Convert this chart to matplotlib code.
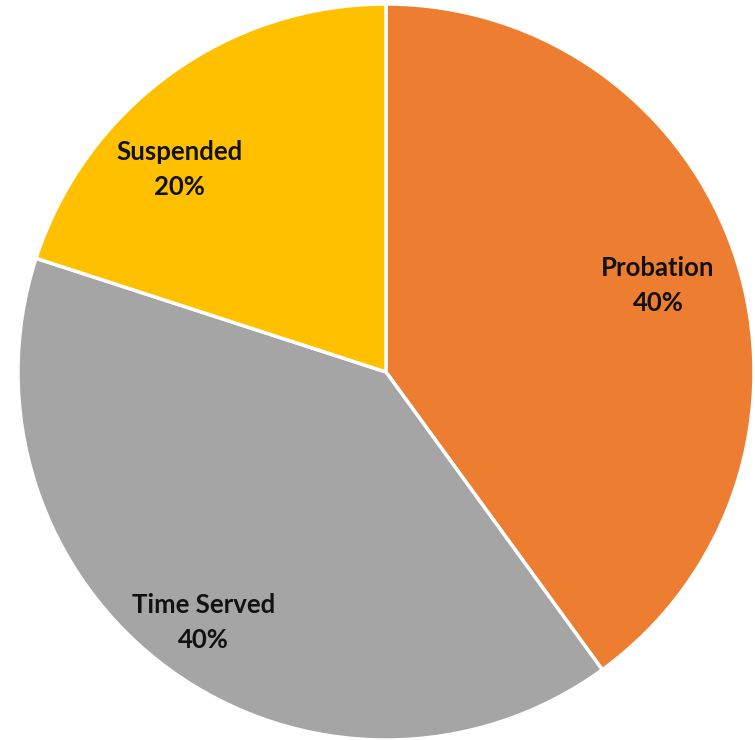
import matplotlib
matplotlib.use("Agg")
import matplotlib.pyplot as plt

categories = ["Probation", "Time Served", "Suspended"]
values = [40, 40, 20]
colors = ["#ED7D31", "#A5A5A5", "#FFC000"]

# label placement (x, y) in axes data units
label_pos = [(0.739, 0.236), (-0.495, -0.682), (-0.560, 0.550)]

fig = plt.figure(figsize=(7.55, 7.40), dpi=100)
ax = fig.add_axes([0, 0, 1, 1])
ax.pie(values, colors=colors, startangle=90, counterclock=False,
       center=(0, 0), radius=1.0,
       wedgeprops=dict(edgecolor="white", linewidth=2.5))
ax.set_xlim(-386/368, (755-386)/368)
ax.set_ylim(-368/368, 372/368)
ax.set_aspect("auto")
ax.axis("off")

total = sum(values)
for cat, v, (x, y) in zip(categories, values, label_pos):
    ax.text(x, y, f"{cat}\n{v/total*100:.0f}%", ha="center", va="center",
            fontsize=18.5, fontweight="bold", family=["Lato", "DejaVu Sans"],
            color="#111111", linespacing=1.55)

fig.savefig("out.png", dpi=100)
